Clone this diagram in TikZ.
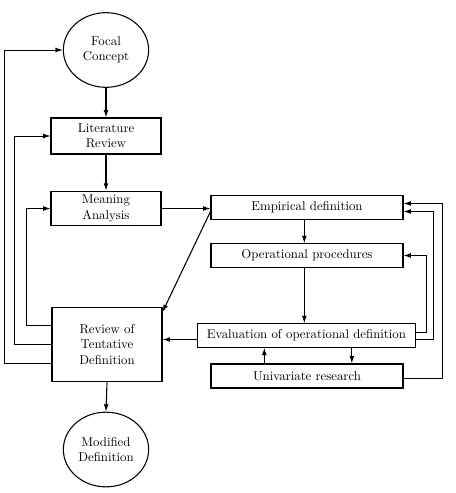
\documentclass[tikz,border=0pt]{standalone}
\usepackage{tikz}
\usetikzlibrary{arrows.meta,shapes.geometric}

\begin{document}
\begin{tikzpicture}[x=0.75pt,y=0.75pt,yscale=-1,xscale=1,
	box/.style={draw,line width=0.8pt,inner sep=1pt,align=center,font=\fontsize{9.6}{11.4}\selectfont},
	oval/.style={draw,ellipse,line width=0.8pt,inner sep=0pt,align=center,font=\fontsize{9.6}{11.4}\selectfont,minimum width=64pt,minimum height=56pt},
	arr/.style={line width=0.8pt,-{Latex[length=5.5pt,width=3.6pt]}},
	back/.style={arr,line width=0.6pt}]
	\useasboundingbox (0,0) rectangle (455,493);
	
	%Shape: Ellipse
	\node [oval] (focal) at (106,50) {Focal\\Concept};
	%Shape: Rectangle
	\node [box,minimum width=82.5pt,minimum height=27pt] (lit) at (106,136) {Literature\\Review};
	%Shape: Rectangle
	\node [box,minimum width=82.5pt,minimum height=26pt] (meaning) at (106,208.5) {Meaning\\Analysis};
	%Shape: Rectangle
	\node [box,minimum width=82.5pt,minimum height=56pt] (review) at (107,344.5) {Review of\\Tentative\\Definition};
	%Shape: Ellipse
	\node [oval] (modified) at (106,449.5) {Modified\\Definition};
	
	%Shape: Rectangle
	\node [box,minimum width=144pt,minimum height=17.5pt] (emp) at (307,207.5) {Empirical definition};
	%Shape: Rectangle
	\node [box,minimum width=144pt,minimum height=17.5pt] (ops) at (307,255.5) {Operational procedures};
	%Shape: Rectangle
	\node [box,minimum width=163pt,minimum height=17.5pt] (eval) at (306.5,335.5) {Evaluation of operational definition};
	%Shape: Rectangle
	\node [box,minimum width=144pt,minimum height=18pt] (univ) at (307,376) {Univariate research};
	
	%Straight Lines
	\draw [arr] (focal.south) -- (lit.north);
	\draw [arr] (lit.south) -- (meaning.north);
	\draw [arr] (review.south) -- (modified.north);
	\draw [arr] (meaning.east) -- (meaning.east -| emp.west);
	\draw [arr] ([xshift=-2pt]emp.south) -- ([xshift=-2pt]ops.north);
	\draw [arr] ([xshift=-2pt]ops.south) -- ([xshift=-2pt]ops.south |- eval.north);
	\draw [arr] ([yshift=3pt]emp.west) -- ([yshift=4pt]review.north east);
	\draw [arr] ([yshift=3pt]eval.west) -- ([yshift=3pt]eval.west -| review.east);
	\draw [arr] ([xshift=-32pt]univ.north) -- ([xshift=-32pt]univ.north |- eval.south);
	\draw [arr] ([xshift=34pt]eval.south) -- ([xshift=34pt]eval.south |- univ.north);
	
	%Feedback Lines (left)
	\draw [back] ([yshift=-14pt]review.west) -| ([xshift=-18pt]meaning.west) -- (meaning.west);
	\draw [back] (review.west) -| ([xshift=-27pt]lit.west) -- (lit.west);
	\draw [back] ([yshift=14pt]review.west) -| ([xshift=-43.5pt]focal.west) -- (focal.west);
	
	%Feedback Lines (right)
	\draw [back] ([yshift=-2pt]eval.east) -| ([xshift=17pt]ops.east) -- (ops.east);
	\draw [back] ([yshift=3pt]eval.east) -| ([xshift=22.5pt,yshift=3pt]emp.east) -- ([yshift=3pt]emp.east);
	\draw [back] ([yshift=2pt]univ.east) -| ([xshift=29pt,yshift=-3pt]emp.east) -- ([yshift=-3pt]emp.east);
	
\end{tikzpicture}
\end{document}
